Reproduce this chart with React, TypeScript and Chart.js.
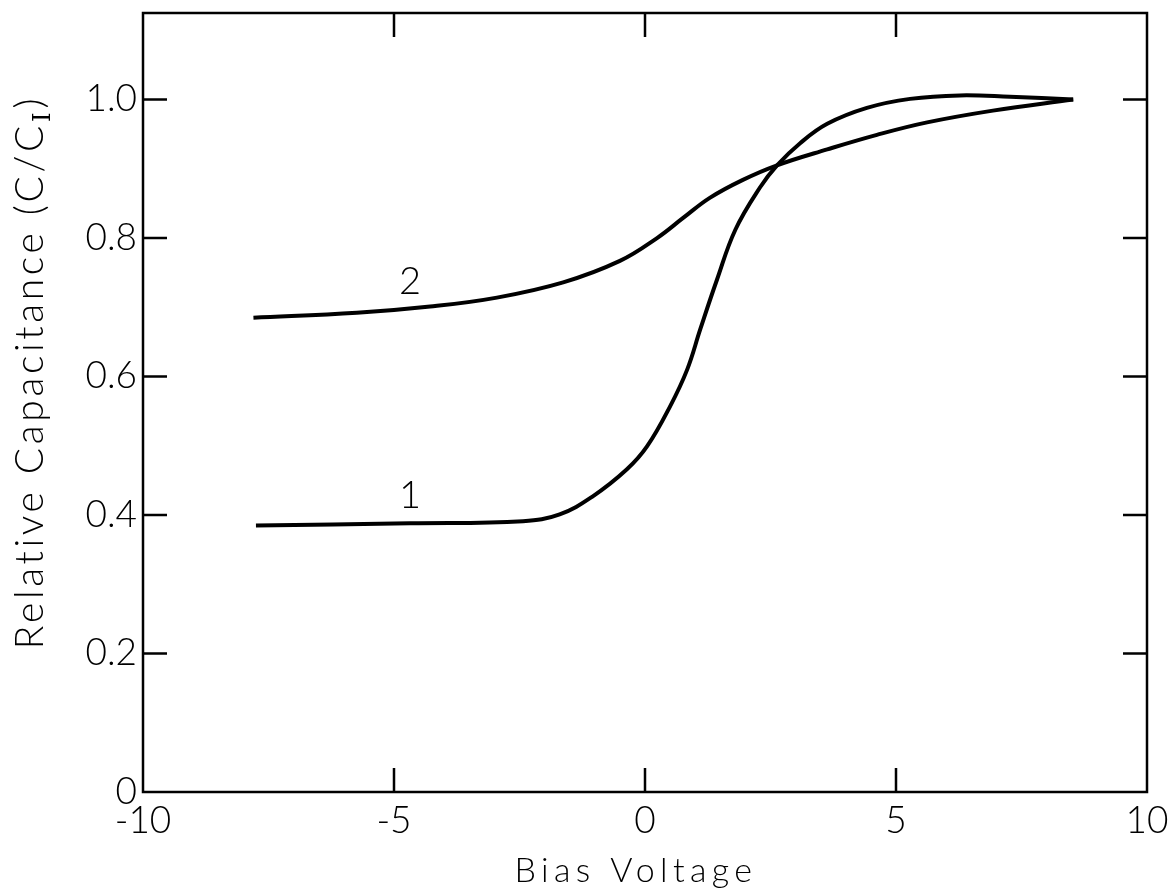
import React, { useEffect, useRef } from "react";
import { Chart, registerables } from "chart.js";

Chart.register(...registerables);

// Curve 1
const biasV1 = [-7.75, -4.68, -2.43, -1.7, -1.04, -0.36, 0.04, 0.5, 0.84, 1.1, 1.43, 1.8, 2.29, 2.63, 3.09, 3.63, 4.42, 5.28, 6.27, 7.27, 8.53];
const cap1 = [0.385, 0.388, 0.391, 0.401, 0.427, 0.466, 0.499, 0.557, 0.61, 0.668, 0.739, 0.812, 0.873, 0.905, 0.937, 0.965, 0.988, 1.001, 1.006, 1.004, 1.0];

// Curve 2
const biasV2 = [-7.8, -5.74, -4.28, -2.95, -1.63, -0.5, 0.24, 0.76, 1.29, 1.95, 2.63, 3.63, 4.62, 5.62, 6.93, 8.53];
const cap2 = [0.685, 0.692, 0.701, 0.714, 0.736, 0.767, 0.8, 0.829, 0.858, 0.884, 0.905, 0.928, 0.949, 0.967, 0.984, 1.0];

const xTickValues = [-10, -5, 0, 5, 10];
const yTickValues = [0, 0.2, 0.4, 0.6, 0.8, 1.0];

const curveLabels = ["1", "2"];
const curveLabelX = [-4.68, -4.68];
const curveLabelY = [0.428, 0.737];

const xTitle = "Bias Voltage";
const yTitleMain = "Relative Capacitance (C/C";
const yTitleSub = "I";
const yTitleEnd = ")";

const FONT = "Lato, 'Open Sans', sans-serif";
const SERIF = "'DejaVu Serif', 'Liberation Serif', serif";

function fitSpacing(ctx: CanvasRenderingContext2D, text: string, target: number) {
  (ctx as any).letterSpacing = "0px";
  const w = ctx.measureText(text).width;
  return (target - w) / text.length;
}

const framePlugin = {
  id: "frameAndTitles",
  afterDraw(chart: any) {
    const { ctx, chartArea, scales } = chart;
    const { left, right, top, bottom } = chartArea;
    const xs = scales.x;
    const ys = scales.y;
    ctx.save();
    ctx.strokeStyle = "#000";
    ctx.fillStyle = "#000";
    ctx.lineWidth = 2.5;
    ctx.lineCap = "butt";
    ctx.strokeRect(left, top, right - left, bottom - top);
    const L = 24;
    ctx.beginPath();
    xs.ticks.forEach((t: any) => {
      const px = xs.getPixelForValue(t.value);
      if (px <= left + 2 || px >= right - 2) return;
      ctx.moveTo(px, bottom);
      ctx.lineTo(px, bottom - L);
      ctx.moveTo(px, top);
      ctx.lineTo(px, top + L);
    });
    ys.ticks.forEach((t: any) => {
      const py = ys.getPixelForValue(t.value);
      if (py >= bottom - 2 || py <= top + 2) return;
      ctx.moveTo(left, py);
      ctx.lineTo(left + L, py);
      ctx.moveTo(right, py);
      ctx.lineTo(right - L, py);
    });
    ctx.stroke();

    // curve labels
    ctx.font = `300 38px ${FONT}`;
    ctx.textAlign = "center";
    ctx.textBaseline = "middle";
    curveLabels.forEach((s, i) => {
      ctx.fillText(s, xs.getPixelForValue(curveLabelX[i]), ys.getPixelForValue(curveLabelY[i]));
    });

    // x title
    ctx.font = `300 34px ${FONT}`;
    ctx.textBaseline = "alphabetic";
    ctx.textAlign = "left";
    const xsp = fitSpacing(ctx, xTitle, 243);
    (ctx as any).letterSpacing = `${xsp}px`;
    const xw = ctx.measureText(xTitle).width;
    ctx.fillText(xTitle, 636 - xw / 2, 882);
    (ctx as any).letterSpacing = "0px";

    // y title rotated
    ctx.save();
    ctx.translate(43, 372);
    ctx.rotate(-Math.PI / 2);
    ctx.font = `300 39px ${FONT}`;
    const mainW0 = ctx.measureText(yTitleMain + yTitleEnd).width;
    ctx.font = `24px ${SERIF}`;
    const subW = ctx.measureText(yTitleSub).width;
    ctx.font = `300 39px ${FONT}`;
    const sp = (555 - mainW0 - subW - 4) / (yTitleMain.length + 1);
    (ctx as any).letterSpacing = `${sp}px`;
    const mainW = ctx.measureText(yTitleMain).width;
    const endW = ctx.measureText(yTitleEnd).width;
    const total = mainW + subW + 4 + endW;
    let cx = -total / 2;
    ctx.fillText(yTitleMain, cx, 0);
    cx += mainW;
    (ctx as any).letterSpacing = "0px";
    ctx.font = `24px ${SERIF}`;
    ctx.fillText(yTitleSub, cx, 7);
    cx += subW + 4;
    ctx.font = `300 39px ${FONT}`;
    ctx.fillText(yTitleEnd, cx, 0);
    ctx.restore();

    ctx.restore();
  },
};

export default function App() {
  const ref = useRef<HTMLCanvasElement | null>(null);
  useEffect(() => {
    if (!ref.current) return;
    const tickFont = { family: FONT, size: 37, weight: "300" as any };
    const chart = new Chart(ref.current, {
      type: "line",
      data: {
        datasets: [
          {
            label: "1",
            data: biasV1.map((v, i) => ({ x: v, y: cap1[i] })),
            borderColor: "#000",
            borderWidth: 4,
            pointRadius: 0,
            fill: false,
            tension: 0.4,
          },
          {
            label: "2",
            data: biasV2.map((v, i) => ({ x: v, y: cap2[i] })),
            borderColor: "#000",
            borderWidth: 4,
            pointRadius: 0,
            fill: false,
            tension: 0.4,
          },
        ],
      },
      options: {
        animation: false,
        responsive: false,
        devicePixelRatio: 1,
        layout: { padding: { top: 13, right: 21, left: 0, bottom: 0 } },
        plugins: { legend: { display: false }, tooltip: { enabled: false } },
        scales: {
          x: {
            type: "linear",
            min: -10,
            max: 10,
            grid: { display: false, drawTicks: false },
            border: { display: false },
            ticks: {
              color: "#000",
              font: tickFont,
              padding: 7,
              maxRotation: 0,
              callback: (v: any) => String(v),
            },
            afterBuildTicks: (s: any) => {
              s.ticks = xTickValues.map((v) => ({ value: v }));
            },
            afterFit: (s: any) => {
              s.height = 102;
              s.paddingLeft = 0;
              s.paddingRight = 0;
            },
          },
          y: {
            type: "linear",
            min: 0,
            max: 1.125,
            grid: { display: false, drawTicks: false },
            border: { display: false },
            ticks: {
              color: "#000",
              font: tickFont,
              padding: 6,
              callback: (v: any) => (v === 0 ? "0" : Number(v).toFixed(1)),
            },
            afterBuildTicks: (s: any) => {
              s.ticks = yTickValues.map((v) => ({ value: v }));
            },
            afterFit: (s: any) => {
              s.width = 143;
              s.paddingTop = 0;
              s.paddingBottom = 0;
            },
          },
        },
      },
      plugins: [framePlugin],
    });
    return () => chart.destroy();
  }, []);
  return (
    <div style={{ position: "fixed", left: 0, top: 0, width: 1168, height: 894, background: "#fff" }}>
      <canvas ref={ref} width={1168} height={894} style={{ display: "block" }} />
    </div>
  );
}
